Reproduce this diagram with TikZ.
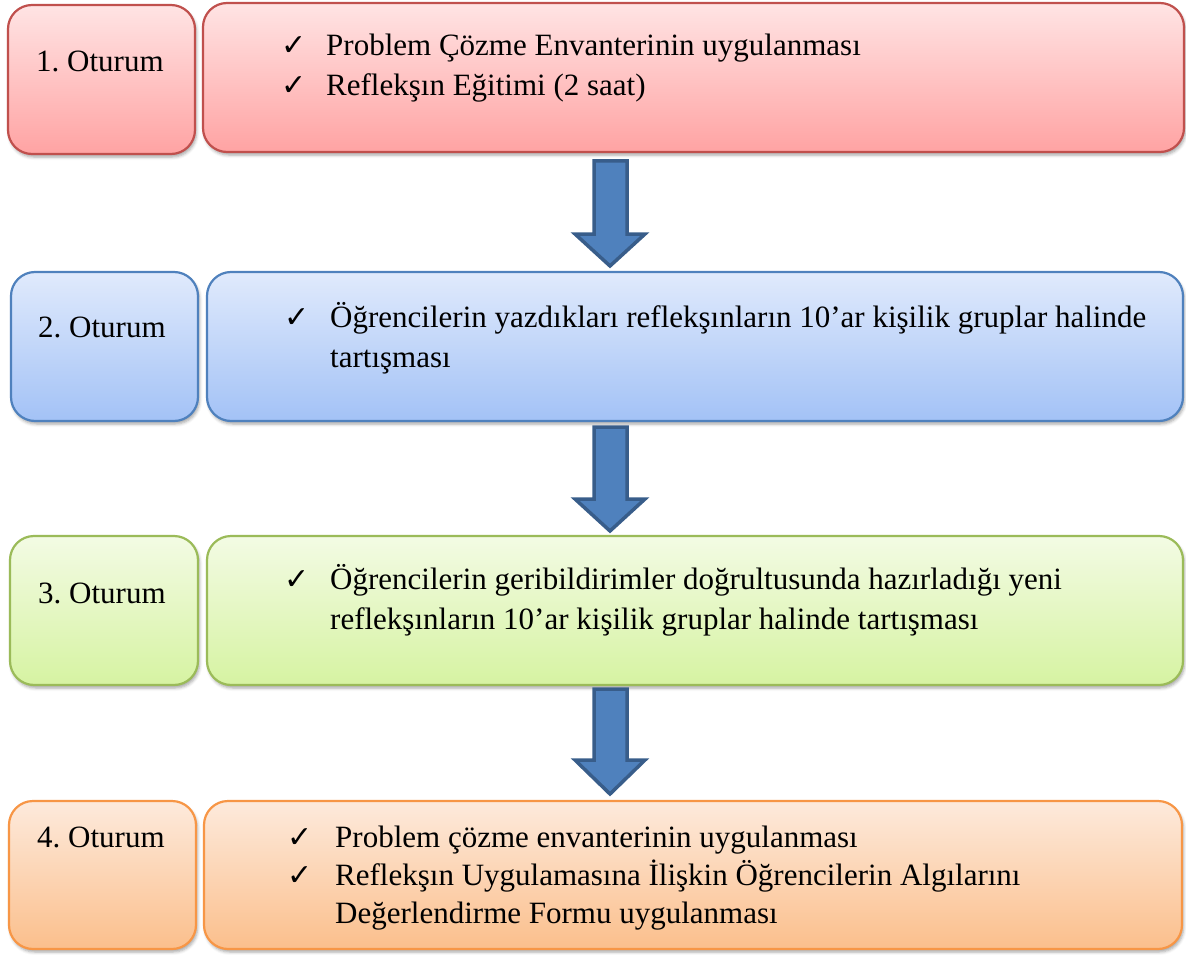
\documentclass[tikz,border=0pt]{standalone}
\usepackage{fontspec}
\setmainfont{Liberation Serif}
\newfontfamily\symfont{DejaVu Sans}
\usetikzlibrary{shadows.blur}
\definecolor{redB}{HTML}{C0504D}
\definecolor{redT}{HTML}{FFE4E4}
\definecolor{redD}{HTML}{FFA3A3}
\definecolor{bluB}{HTML}{4F81BD}
\definecolor{bluT}{HTML}{E0EAFC}
\definecolor{bluD}{HTML}{A3C2F6}
\definecolor{grnB}{HTML}{9BBB59}
\definecolor{grnT}{HTML}{F3FBE4}
\definecolor{grnD}{HTML}{D6F3A2}
\definecolor{orgB}{HTML}{F79646}
\definecolor{orgT}{HTML}{FDEADC}
\definecolor{orgD}{HTML}{FBBF8C}
\definecolor{arrF}{HTML}{4F81BD}
\definecolor{arrB}{HTML}{385D8A}
\newcommand\ck{{\symfont\fontsize{30}{30}\selectfont ✓}}
\frenchspacing
\tikzset{
  boxbase/.style={rounded corners=24pt, line width=2.2pt, inner sep=0pt,
    blur shadow={shadow xshift=1.5pt, shadow yshift=-3pt, shadow blur radius=3pt, shadow opacity=35}},
  redbox/.style={boxbase, draw=redB, top color=redT, bottom color=redD},
  blubox/.style={boxbase, draw=bluB, top color=bluT, bottom color=bluD},
  grnbox/.style={boxbase, draw=grnB, top color=grnT, bottom color=grnD},
  orgbox/.style={boxbase, draw=orgB, top color=orgT, bottom color=orgD},
  lab/.style={anchor=base west, inner sep=0pt, font=\fontsize{31}{40}\selectfont},
  tick/.style={anchor=base west, inner sep=0pt},
  bigarrow/.style={draw=arrB, fill=arrF, line width=3.5pt, line join=miter}
}
\begin{document}
\begin{tikzpicture}[x=1pt,y=-1pt]
\useasboundingbox (0,0) rectangle (1186,955);
% row 1
\node[redbox, minimum width=187pt, minimum height=149pt] (l1) at (101.5,79.5) {};
\node[redbox, minimum width=981pt, minimum height=149pt] (r1) at (693.5,77.5) {};
% row 2
\node[blubox, minimum width=187pt, minimum height=149pt] (l2) at (104.5,346.5) {};
\node[blubox, minimum width=976pt, minimum height=149pt] (r2) at (695,346.5) {};
% row 3
\node[grnbox, minimum width=188pt, minimum height=149pt] (l3) at (104,610.5) {};
\node[grnbox, minimum width=976pt, minimum height=149pt] (r3) at (695,610.5) {};
% row 4
\node[orgbox, minimum width=187pt, minimum height=148pt] (l4) at (102.5,875) {};
\node[orgbox, minimum width=978pt, minimum height=148pt] (r4) at (693,875) {};
% arrows
\draw[bigarrow] (594,161) -- (627,161) -- (627,234) -- (645,234) -- (610,266) -- (575,234) -- (594,234) -- cycle;
\draw[bigarrow] (594,427) -- (627,427) -- (627,499) -- (645,499) -- (610,531) -- (575,499) -- (594,499) -- cycle;
\draw[bigarrow] (594,689) -- (627,689) -- (627,760) -- (645,760) -- (610,794) -- (575,760) -- (594,760) -- cycle;
% labels
\node[lab] (t1) at (36,72) {1. Oturum};
\node[lab] (t2) at (38,337) {2. Oturum};
\node[lab] (t3) at (38,603) {3. Oturum};
\node[lab] (t4) at (37,847) {4. Oturum};
% box 1 text
\node[tick] (c11) at (281,56) {\ck};
\node[lab] (a11) at (326,56) {Problem Çözme Envanterinin uygulanması};
\node[tick] (c12) at (281,96) {\ck};
\node[lab] (a12) at (326,96) {Reflekşın Eğitimi (2 saat)};
% box 2 text
\node[tick] (c21) at (284,327) {\ck};
\node[lab] (a21) at (330,327) {Öğrencilerin yazdıkları reflekşınların 10’ar kişilik gruplar halinde};
\node[lab] (a22) at (330,367) {tartışması};
% box 3 text
\node[tick] (c31) at (284,589) {\ck};
\node[lab] (a31) at (330,589) {Öğrencilerin geribildirimler doğrultusunda hazırladığı yeni};
\node[lab] (a32) at (330,629) {reflekşınların 10’ar kişilik gruplar halinde tartışması};
% box 4 text
\node[tick] (c41) at (287,847) {\ck};
\node[lab] (a41) at (335,847) {Problem çözme envanterinin uygulanması};
\node[tick] (c42) at (287,885) {\ck};
\node[lab] (a42) at (335,885) {Reflekşın Uygulamasına İlişkin Öğrencilerin Algılarını};
\node[lab] (a43) at (335,923) {Değerlendirme Formu uygulanması};
\end{tikzpicture}
\end{document}
